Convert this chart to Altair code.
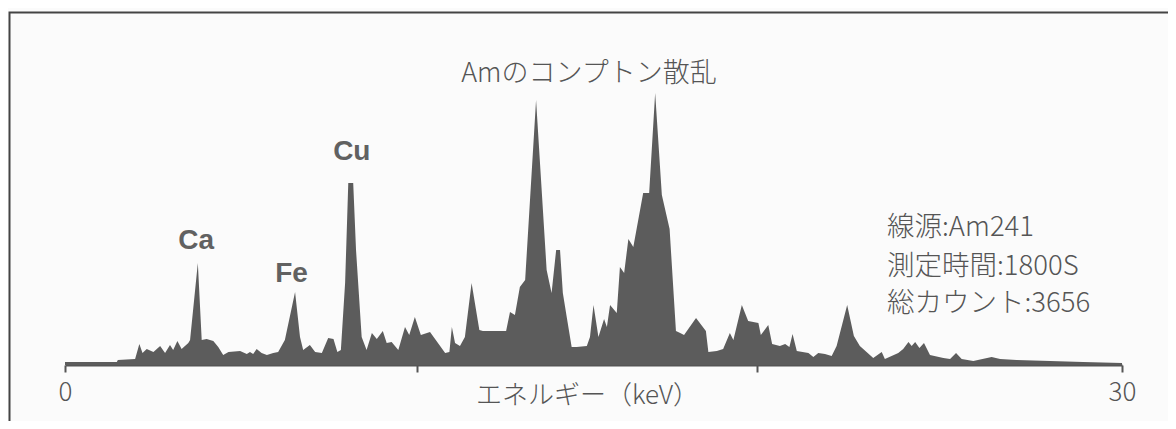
import altair as alt
import pandas as pd

# ---- spectrum (energy in keV, counts in arbitrary units) ----
energy_kev = [
    0.00, 1.47, 1.50, 1.99, 2.11, 2.20, 2.32, 2.51, 2.70, 2.84, 2.98, 3.07, 3.19, 3.31,
    3.50, 3.55, 3.77, 3.88, 4.02, 4.21, 4.35, 4.49, 4.64, 4.97, 5.16, 5.25, 5.34, 5.44,
    5.58, 5.73, 5.91, 6.05, 6.24, 6.53, 6.67, 6.76, 6.95, 7.10, 7.29, 7.47, 7.62, 7.73,
    7.83, 7.95, 8.04, 8.18, 8.26, 8.42, 8.56, 8.71, 8.85, 9.02, 9.13, 9.27, 9.46, 9.65,
    9.77, 9.93, 10.10, 10.36, 10.79, 10.91, 10.98, 11.07, 11.21, 11.35, 11.54, 11.76,
    11.86, 12.52, 12.63, 12.77, 12.91, 13.06, 13.37, 13.67, 13.81, 13.94, 14.05, 14.13,
    14.24, 14.38, 14.52, 14.81, 14.90, 15.00, 15.14, 15.30, 15.38, 15.47, 15.66, 15.75,
    15.87, 15.99, 16.13, 16.41, 16.58, 16.75, 16.94, 17.16, 17.34, 17.46, 17.57, 17.91,
    18.19, 18.26, 18.50, 18.68, 18.87, 18.97, 19.21, 19.39, 19.68, 19.75, 19.96, 20.07,
    20.29, 20.44, 20.56, 20.65, 20.77, 21.10, 21.24, 21.38, 21.57, 21.76, 21.90, 22.20,
    22.39, 22.56, 22.94, 23.18, 23.27, 23.65, 23.79, 23.94, 24.03, 24.13, 24.25, 24.38,
    24.55, 24.93, 25.12, 25.29, 25.45, 25.78, 26.30, 26.54, 27.01, 27.96, 28.90, 30.00,
]
counts = [
    3, 3, 5, 6, 21, 12, 16, 13, 19, 12, 20, 15, 24, 16,
    22, 25, 102, 25, 26, 24, 18, 10, 13, 14, 11, 13, 11, 16,
    12, 10, 12, 13, 25, 73, 28, 15, 20, 13, 12, 27, 26, 13,
    15, 82, 182, 182, 115, 28, 15, 32, 26, 34, 22, 23, 15, 38,
    30, 48, 30, 33, 12, 13, 38, 22, 19, 28, 82, 35,
    34, 34, 53, 50, 78, 85, 265, 95, 72, 115, 115, 72,
    48, 18, 18, 19, 28, 60, 28, 46, 38, 60, 52, 98,
    92, 126, 118, 172, 172, 272, 170, 136, 34, 32, 30, 47,
    34, 13, 14, 16, 32, 25, 60, 44, 42, 30, 40, 21,
    19, 21, 18, 31, 14, 12, 8, 12, 11, 9, 19, 60,
    29, 19, 7, 13, 6, 12, 16, 23, 19, 23, 17, 22,
    10, 7, 6, 12, 6, 4, 8, 6, 5, 4, 3, 2,
]

# ---- annotations ----
peak_labels = ["Ca", "Fe", "Cu"]
peak_label_kev = [3.72, 6.43, 8.14]
peak_label_counts = [116, 83, 205]

title_text = ["Amのコンプトン散乱"]
title_kev = [14.87]
title_counts = [283]

info_lines = ["線源:Am241", "測定時間:1800S", "総カウント:3656"]
info_kev = [23.33, 23.33, 23.33]
info_counts = [129, 90, 53]

x_tick_values = [0, 10, 19.64, 30]
x_axis_title = "エネルギー（keV）"

GRAY = "#5c5c5c"
TEXT = "#555555"
CJK = "Noto Sans CJK JP"

spec = pd.DataFrame({"energy": energy_kev, "counts": counts})
peaks = pd.DataFrame({"energy": peak_label_kev, "counts": peak_label_counts, "label": peak_labels})
title_df = pd.DataFrame({"energy": title_kev, "counts": title_counts, "label": title_text})
info_df = pd.DataFrame({"energy": info_kev, "counts": info_counts, "label": info_lines})

x_scale = alt.Scale(domain=[0, 30], nice=False, zero=False)
y_scale = alt.Scale(domain=[0, 300], nice=False)

area = alt.Chart(spec).mark_area(color=GRAY, interpolate="linear").encode(
    x=alt.X(
        "energy:Q",
        scale=x_scale,
        axis=alt.Axis(
            values=x_tick_values,
            labelExpr="(datum.value == 0 || datum.value == 30) ? datum.label : ''",
            labelFont=CJK,
            labelFontSize=26,
            labelFontWeight=300,
            labelColor=TEXT,
            labelBaseline="alphabetic",
            labelPadding=28,
            labelFlush=False,
            tickSize=7,
            tickWidth=2,
            tickColor=TEXT,
            domainColor=TEXT,
            domainWidth=2,
            grid=False,
            title=x_axis_title,
            titleFont=CJK,
            titleFontSize=26,
            titleFontWeight=300,
            titleColor=TEXT,
            titleBaseline="alphabetic",
            titleAlign="center",
            titleX=522,
            titleY=38,
        ),
    ),
    y=alt.Y("counts:Q", scale=y_scale, axis=None),
)

peak_text = alt.Chart(peaks).mark_text(
    font="Liberation Sans", fontSize=28, fontWeight="bold", color="#616161",
    align="center", baseline="alphabetic",
).encode(
    x=alt.X("energy:Q", scale=x_scale),
    y=alt.Y("counts:Q", scale=y_scale),
    text="label:N",
)

title_mark = alt.Chart(title_df).mark_text(
    font=CJK, fontSize=27, fontWeight=300, color=TEXT, align="center", baseline="alphabetic",
).encode(
    x=alt.X("energy:Q", scale=x_scale),
    y=alt.Y("counts:Q", scale=y_scale),
    text="label:N",
)

info_mark = alt.Chart(info_df).mark_text(
    font=CJK, fontSize=27.5, fontWeight=300, color=TEXT, align="left", baseline="alphabetic",
).encode(
    x=alt.X("energy:Q", scale=x_scale),
    y=alt.Y("counts:Q", scale=y_scale),
    text="label:N",
)

frame = alt.Chart(pd.DataFrame({"f": [0]})).mark_rect(
    filled=False, stroke="#444444", strokeWidth=2
).encode(
    x=alt.value(-55.5), x2=alt.value(1130),
    y=alt.value(-52.5), y2=alt.value(380),
)

chart = alt.layer(frame, area, peak_text, title_mark, info_mark).properties(
    width=1057,
    height=300,
    padding={"left": 57, "top": 57, "right": 46, "bottom": 56},
    autosize=alt.AutoSizeParams(type="none"),
    background="#fbfbfb",
).configure_view(stroke=None)

chart.save("out.html", embed_options={"renderer": "svg", "actions": False})
